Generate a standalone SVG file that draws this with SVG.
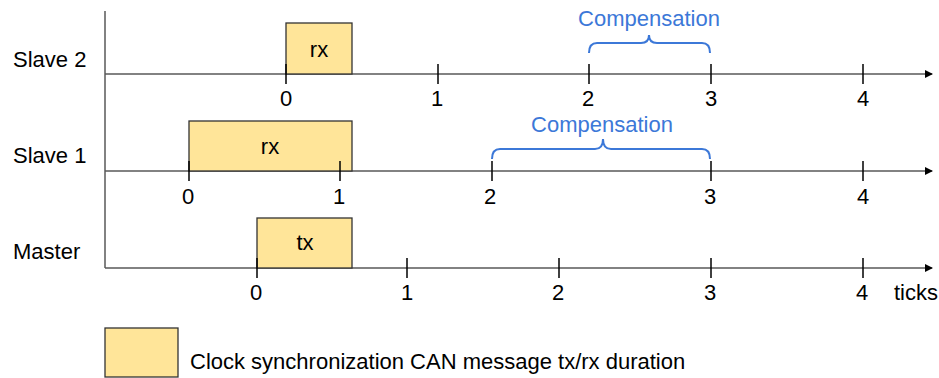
<svg xmlns="http://www.w3.org/2000/svg" width="939" height="378" viewBox="0 0 939 378">
<style>
text{font-family:"Liberation Sans",Arial,sans-serif;font-size:22px;fill:#000}
.lbl{text-anchor:middle}
.comp{fill:#3c78d8;text-anchor:middle}
.axis{stroke:#595959;stroke-width:1.5;fill:none}
.tick{stroke:#000;stroke-width:1.5}
.box{fill:#ffe599;stroke:#333;stroke-width:1.3}
.brace{fill:none;stroke:#3c78d8;stroke-width:2}
</style>
<defs>
<marker id="arr" markerWidth="8" markerHeight="8" refX="7" refY="4" orient="auto" markerUnits="userSpaceOnUse">
<path d="M0,0 L8,4 L0,8 Z" fill="#000"/>
</marker>
</defs>
<g id="connectors">
<line class="axis" x1="105" y1="11" x2="105" y2="268"/>
<line class="axis" x1="105" y1="74" x2="932" y2="74" marker-end="url(#arr)"/>
<line class="axis" x1="105" y1="171" x2="932" y2="171" marker-end="url(#arr)"/>
<line class="axis" x1="105" y1="268" x2="932" y2="268" marker-end="url(#arr)"/>
</g>
<g id="slave2">
<text x="13" y="67">Slave 2</text>
<rect class="box" x="286" y="23" width="66" height="51"/>
<text class="lbl" x="319" y="57">rx</text>
<line class="tick" x1="286" y1="64" x2="286" y2="84"/>
<line class="tick" x1="438" y1="64" x2="438" y2="84"/>
<line class="tick" x1="589" y1="64" x2="589" y2="84"/>
<line class="tick" x1="711" y1="64" x2="711" y2="84"/>
<line class="tick" x1="863" y1="64" x2="863" y2="84"/>
<text class="lbl" x="286" y="106">0</text>
<text class="lbl" x="437" y="106">1</text>
<text class="lbl" x="588" y="106">2</text>
<text class="lbl" x="711" y="106">3</text>
<text class="lbl" x="863" y="106">4</text>
<path class="brace" d="M589,53 Q589,43 597,43 L641,43 Q649,43 649,35 Q649,43 657,43 L702,43 Q710,43 710,53"/>
<text class="comp" x="649" y="26">Compensation</text>
</g>
<g id="slave1">
<text x="13" y="163">Slave 1</text>
<rect class="box" x="189" y="121" width="163" height="50"/>
<text class="lbl" x="270" y="154">rx</text>
<line class="tick" x1="189" y1="161" x2="189" y2="181"/>
<line class="tick" x1="340" y1="161" x2="340" y2="181"/>
<line class="tick" x1="492" y1="161" x2="492" y2="181"/>
<line class="tick" x1="711" y1="161" x2="711" y2="181"/>
<line class="tick" x1="863" y1="161" x2="863" y2="181"/>
<text class="lbl" x="188" y="204">0</text>
<text class="lbl" x="339" y="204">1</text>
<text class="lbl" x="490" y="204">2</text>
<text class="lbl" x="710" y="204">3</text>
<text class="lbl" x="863" y="204">4</text>
<path class="brace" d="M492,159 Q492,149 500,149 L595,149 Q603,149 603,139 Q603,149 611,149 L702,149 Q710,149 710,159"/>
<text class="comp" x="602" y="132">Compensation</text>
</g>
<g id="master">
<text x="13" y="259">Master</text>
<rect class="box" x="257" y="218" width="95" height="50"/>
<text class="lbl" x="305" y="250">tx</text>
<line class="tick" x1="257" y1="258" x2="257" y2="278"/>
<line class="tick" x1="407" y1="258" x2="407" y2="278"/>
<line class="tick" x1="559" y1="258" x2="559" y2="278"/>
<line class="tick" x1="711" y1="258" x2="711" y2="278"/>
<line class="tick" x1="863" y1="258" x2="863" y2="278"/>
<text class="lbl" x="256" y="300">0</text>
<text class="lbl" x="407" y="300">1</text>
<text class="lbl" x="558" y="300">2</text>
<text class="lbl" x="710" y="300">3</text>
<text class="lbl" x="862" y="300">4</text>
<text x="894" y="300">ticks</text>
</g>
<g id="legend">
<rect class="box" x="105" y="328" width="73" height="49"/>
<text x="190" y="369">Clock synchronization CAN message tx/rx duration</text>
</g>
</svg>
